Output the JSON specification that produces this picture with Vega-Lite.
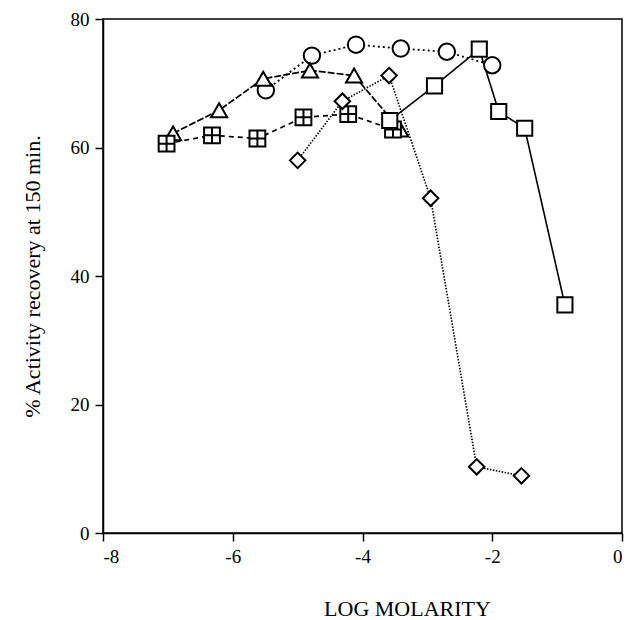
{
  "$schema": "https://vega.github.io/schema/vega-lite/v6.json",
  "width": 519,
  "height": 514,
  "autosize": "none",
  "padding": {"left": 103, "top": 19, "right": 7, "bottom": 87},
  "background": "white",
  "config": {
    "view": {"stroke": "black", "strokeWidth": 1.5},
    "font": "Liberation Serif",
    "axis": {
      "labelFont": "Liberation Serif",
      "titleFont": "Liberation Serif",
      "labelColor": "black",
      "titleColor": "black",
      "domainColor": "black",
      "tickColor": "black",
      "domainWidth": 1.5,
      "tickWidth": 1.5,
      "grid": false,
      "titleFontWeight": "normal",
      "labelFontSize": 19,
      "titleFontSize": 22,
      "tickSize": 8
    }
  },
  "data": {
    "values": [
      {"s": "circle", "x": -5.49, "y": 68.9},
      {"s": "circle", "x": -4.78, "y": 74.3},
      {"s": "circle", "x": -4.10, "y": 76.0},
      {"s": "circle", "x": -3.41, "y": 75.4},
      {"s": "circle", "x": -2.70, "y": 74.9},
      {"s": "circle", "x": -2.00, "y": 72.8},
      {"s": "triangle", "x": -6.92, "y": 62.2},
      {"s": "triangle", "x": -6.21, "y": 65.8},
      {"s": "triangle", "x": -5.53, "y": 70.7},
      {"s": "triangle", "x": -4.81, "y": 72.0},
      {"s": "triangle", "x": -4.13, "y": 71.2},
      {"s": "triangle", "x": -3.42, "y": 62.8},
      {"s": "crossed", "x": -7.02, "y": 60.6},
      {"s": "crossed", "x": -6.32, "y": 61.9},
      {"s": "crossed", "x": -5.62, "y": 61.4},
      {"s": "crossed", "x": -4.91, "y": 64.7},
      {"s": "crossed", "x": -4.22, "y": 65.2},
      {"s": "crossed", "x": -3.53, "y": 62.8},
      {"s": "diamond", "x": -5.00, "y": 58.0},
      {"s": "diamond", "x": -4.31, "y": 67.2},
      {"s": "diamond", "x": -3.59, "y": 71.2},
      {"s": "diamond", "x": -2.95, "y": 52.1},
      {"s": "diamond", "x": -2.24, "y": 10.3},
      {"s": "diamond", "x": -1.55, "y": 8.9},
      {"s": "square", "x": -3.58, "y": 64.2},
      {"s": "square", "x": -2.89, "y": 69.6},
      {"s": "square", "x": -2.20, "y": 75.3},
      {"s": "square", "x": -1.90, "y": 65.6},
      {"s": "square", "x": -1.50, "y": 63.0},
      {"s": "square", "x": -0.88, "y": 35.5}
    ]
  },
  "encoding": {
    "x": {
      "field": "x", "type": "quantitative",
      "scale": {"domain": [-8, 0], "nice": false, "zero": false},
      "axis": {
        "values": [-8, -6, -4, -2, 0],
        "labelExpr": "toString(datum.value)",
        "title": "LOG MOLARITY",
        "titleX": 304, "titleY": 82, "titleBaseline": "alphabetic", "titleAnchor": "middle", "titleAlign": "center",
        "labelPadding": 6
      }
    },
    "y": {
      "field": "y", "type": "quantitative",
      "scale": {"domain": [0, 80], "nice": false},
      "axis": {
        "values": [0, 20, 40, 60, 80],
        "labelExpr": "toString(datum.value)",
        "title": "% Activity recovery at 150 min.",
        "titlePadding": 26, "labelPadding": 6
      }
    }
  },
  "layer": [
    {
      "mark": {"type": "line", "color": "black"},
      "encoding": {
        "detail": {"field": "s"},
        "strokeDash": {
          "field": "s", "type": "nominal", "legend": null,
          "scale": {
            "domain": ["circle", "triangle", "crossed", "diamond", "square"],
            "range": [[2, 3], [7, 2], [5, 4], [1.5, 1.5], [1, 0]]
          }
        },
        "strokeWidth": {
          "field": "s", "type": "nominal", "legend": null,
          "scale": {
            "domain": ["circle", "triangle", "crossed", "diamond", "square"],
            "range": [1.8, 1.6, 1.8, 1.2, 2.2]
          }
        }
      }
    },
    {
      "mark": {"type": "point", "filled": false, "fill": "white", "fillOpacity": 1, "stroke": "black", "strokeWidth": 2, "opacity": 1},
      "encoding": {
        "shape": {
          "field": "s", "type": "nominal", "legend": null,
          "scale": {
            "domain": ["circle", "triangle", "crossed", "diamond", "square"],
            "range": ["circle", "triangle-up", "M-1,-1H1V1H-1Z M0,-1V1 M-1,0H1", "diamond", "square"]
          }
        },
        "size": {
          "field": "s", "type": "nominal", "legend": null,
          "scale": {
            "domain": ["circle", "triangle", "crossed", "diamond", "square"],
            "range": [270, 230, 260, 170, 280]
          }
        }
      }
    }
  ]
}
